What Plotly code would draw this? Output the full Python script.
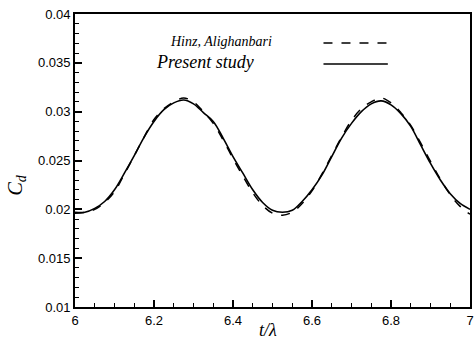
import plotly.graph_objects as go

t = [6.0, 6.025, 6.05, 6.075, 6.1, 6.125, 6.15, 6.175, 6.2, 6.225, 6.25, 6.275,
     6.3, 6.325, 6.35, 6.375, 6.4, 6.425, 6.45, 6.475, 6.5, 6.525, 6.55, 6.575,
     6.6, 6.625, 6.65, 6.675, 6.7, 6.725, 6.75, 6.775, 6.8, 6.825, 6.85, 6.875,
     6.9, 6.925, 6.95, 6.975, 7.0]

cd_hinz = [0.0196, 0.0197, 0.0200, 0.0207, 0.0218, 0.0236, 0.0255, 0.0274, 0.0292,
           0.0303, 0.0310, 0.0314, 0.0310, 0.0300, 0.0288, 0.0271, 0.0252, 0.0234,
           0.0217, 0.0204, 0.0196, 0.0194, 0.0197, 0.0206, 0.0219, 0.0236, 0.0255,
           0.0274, 0.0291, 0.0303, 0.0310, 0.0314, 0.0309, 0.0299, 0.0286, 0.0268,
           0.0249, 0.0231, 0.0215, 0.0203, 0.0195]

cd_present = [0.0197, 0.0197, 0.0201, 0.0208, 0.0220, 0.0237, 0.0255, 0.0274, 0.0290,
              0.0302, 0.0309, 0.0312, 0.0308, 0.0299, 0.0290, 0.0273, 0.0254, 0.0237,
              0.0220, 0.0207, 0.0199, 0.0197, 0.0199, 0.0208, 0.0220, 0.0235, 0.0254,
              0.0273, 0.0288, 0.0300, 0.0308, 0.0311, 0.0307, 0.0298, 0.0285, 0.0266,
              0.0247, 0.0230, 0.0216, 0.0206, 0.0200]

x_ticks = [6, 6.2, 6.4, 6.6, 6.8, 7]
x_ticklabels = ["6", "6.2", "6.4", "6.6", "6.8", "7"]
y_ticks = [0.01, 0.015, 0.02, 0.025, 0.03, 0.035, 0.04]
y_ticklabels = ["0.01", "0.015", "0.02", "0.025", "0.03", "0.035", "0.04"]

fig = go.Figure()
fig.add_trace(go.Scatter(x=t, y=cd_hinz, mode="lines", line=dict(color="black", width=1.5, dash="dash", shape="spline"),
                         showlegend=False))
fig.add_trace(go.Scatter(x=t, y=cd_present, mode="lines", line=dict(color="black", width=1.6, shape="spline"),
                         showlegend=False))

W, H = 475, 342
L, R, T, B = 75, 1, 14, 35
pw, ph = W - L - R, H - T - B

def px(x):
    return (x - L) / pw

def py(y):
    return (H - B - y) / ph

serif = "Liberation Serif, Times New Roman, serif"
sans = "Liberation Sans, Arial, sans-serif"

fig.update_layout(
    width=W, height=H,
    margin=dict(l=L, r=R, t=T, b=B, pad=0),
    paper_bgcolor="white", plot_bgcolor="white",
    xaxis=dict(range=[6, 7], tickvals=x_ticks, ticktext=x_ticklabels, ticks="inside", ticklen=7,
               tickwidth=1.5, tickcolor="black", showgrid=False, zeroline=False,
               showline=True, linecolor="black", linewidth=1.8, mirror=True,
               ticklabeloverflow="allow",
               tickfont=dict(family=sans, size=13, color="black"),
               minor=dict(dtick=0.05, ticks="inside", ticklen=4, tickwidth=1, tickcolor="black", showgrid=False)),
    yaxis=dict(range=[0.01, 0.04], tickvals=y_ticks, ticktext=y_ticklabels, ticks="inside", ticklen=7,
               tickwidth=1.5, tickcolor="black", showgrid=False, zeroline=False,
               showline=True, linecolor="black", linewidth=1.8, mirror=True,
               tickfont=dict(family=sans, size=13, color="black"),
               minor=dict(dtick=0.001, ticks="inside", ticklen=4, tickwidth=1, tickcolor="black", showgrid=False)),
    annotations=[
        dict(text="<i>t/λ</i>", x=px(270), y=py(330), xref="paper", yref="paper", showarrow=False,
             font=dict(family=serif, size=18, color="black"), xanchor="center", yanchor="middle"),
        dict(text="<i>C<sub>d</sub></i>", x=px(15), y=py(185), xref="paper", yref="paper", showarrow=False,
             textangle=-90, font=dict(family=serif, size=20, color="black"), xanchor="center", yanchor="middle"),
        dict(text="<i>Hinz, Alighanbari</i>", x=px(169), y=py(41), xref="paper", yref="paper", showarrow=False,
             font=dict(family=serif, size=14, color="black"), xanchor="left", yanchor="middle"),
        dict(text="<i>Present study</i>", x=px(155), y=py(62), xref="paper", yref="paper", showarrow=False,
             font=dict(family=serif, size=18, color="black"), xanchor="left", yanchor="middle"),
    ],
    shapes=[
        dict(type="line", xref="paper", yref="paper", x0=px(326), x1=px(391), y0=py(43), y1=py(43),
             line=dict(color="black", width=1.5, dash="dash")),
        dict(type="line", xref="paper", yref="paper", x0=px(326), x1=px(391), y0=py(64), y1=py(64),
             line=dict(color="black", width=1.5)),
    ],
)

fig.write_html("out.html", config={"displayModeBar": False},
               post_script="document.body.style.margin='0';document.body.style.overflow='hidden';")
